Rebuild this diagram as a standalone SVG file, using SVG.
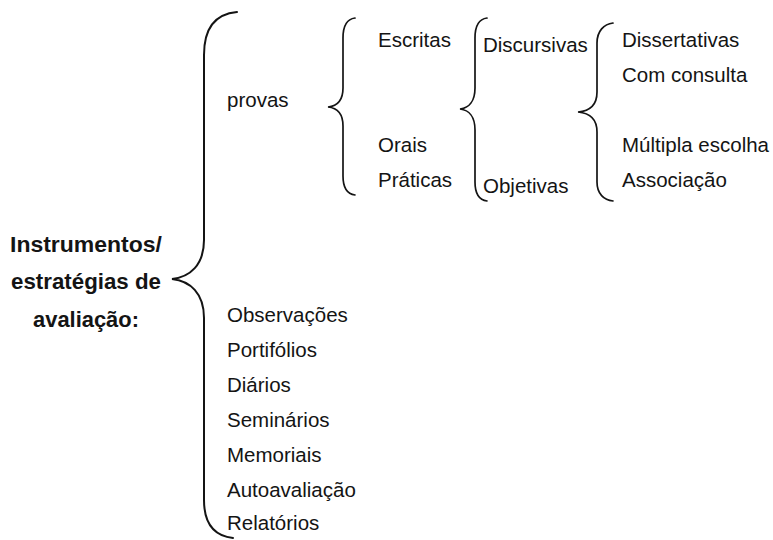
<svg xmlns="http://www.w3.org/2000/svg" width="773" height="540" viewBox="0 0 773 540">
<style>
.t{font-family:"Liberation Sans",Arial,sans-serif;font-size:20.5px;fill:#141414}
.b{font-family:"Liberation Sans",Arial,sans-serif;font-size:22px;font-weight:bold;fill:#141414;text-anchor:middle}
.br{fill:none;stroke:#141414;stroke-width:2;stroke-linecap:round}
.bs{fill:none;stroke:#141414;stroke-width:1.7;stroke-linecap:round}
</style>
<rect width="773" height="540" fill="#fff"/>
<g id="connectors">
<path class="br" d="M237,12 C215,14 204,28 204,55 L204,240 C204,265 190,277 172,279 C190,281 204,293 204,318 L204,500 C204,525 215,536 233,538"/>
<path class="bs" d="M355,18 C347,19 343,26 343,38 L343,88 C343,100 338,106 328,107 C338,108 343,114 343,126 L343,176 C343,188 347,194 355,195"/>
<path class="bs" d="M487,18 C479,19 475,26 475,38 L475,88 C475,101 469,108 460,109 C469,110 475,117 475,130 L475,182 C475,194 479,200 487,201"/>
<path class="bs" d="M613,23 C604,24 597,31 597,43 L597,92 C597,105 590,111 578,112 C590,113 597,119 597,132 L597,182 C597,194 604,200 613,201"/>
</g>
<g id="root"><text class="b" x="86" y="252" textLength="152" lengthAdjust="spacingAndGlyphs">Instrumentos/</text><text class="b" x="86" y="289" textLength="150" lengthAdjust="spacingAndGlyphs">estratégias de</text><text class="b" x="86" y="327" textLength="106" lengthAdjust="spacingAndGlyphs">avaliação:</text></g>
<g id="provas"><text class="t" x="227" y="107">provas</text></g>
<g id="escritas"><text class="t" x="378" y="47">Escritas</text></g>
<g id="orais"><text class="t" x="378" y="152">Orais</text></g>
<g id="praticas"><text class="t" x="378" y="187">Práticas</text></g>
<g id="discursivas"><text class="t" x="483" y="52">Discursivas</text></g>
<g id="objetivas"><text class="t" x="483" y="193">Objetivas</text></g>
<g id="dissertativas"><text class="t" x="622" y="47">Dissertativas</text></g>
<g id="comconsulta"><text class="t" x="622" y="82">Com consulta</text></g>
<g id="multipla"><text class="t" x="622" y="152">Múltipla escolha</text></g>
<g id="associacao"><text class="t" x="622" y="187">Associação</text></g>
<g id="observacoes"><text class="t" x="227" y="322">Observações</text></g>
<g id="portifolios"><text class="t" x="227" y="357">Portifólios</text></g>
<g id="diarios"><text class="t" x="227" y="392">Diários</text></g>
<g id="seminarios"><text class="t" x="227" y="427">Seminários</text></g>
<g id="memoriais"><text class="t" x="227" y="462">Memoriais</text></g>
<g id="autoavaliacao"><text class="t" x="227" y="497">Autoavaliação</text></g>
<g id="relatorios"><text class="t" x="227" y="530">Relatórios</text></g>
</svg>
